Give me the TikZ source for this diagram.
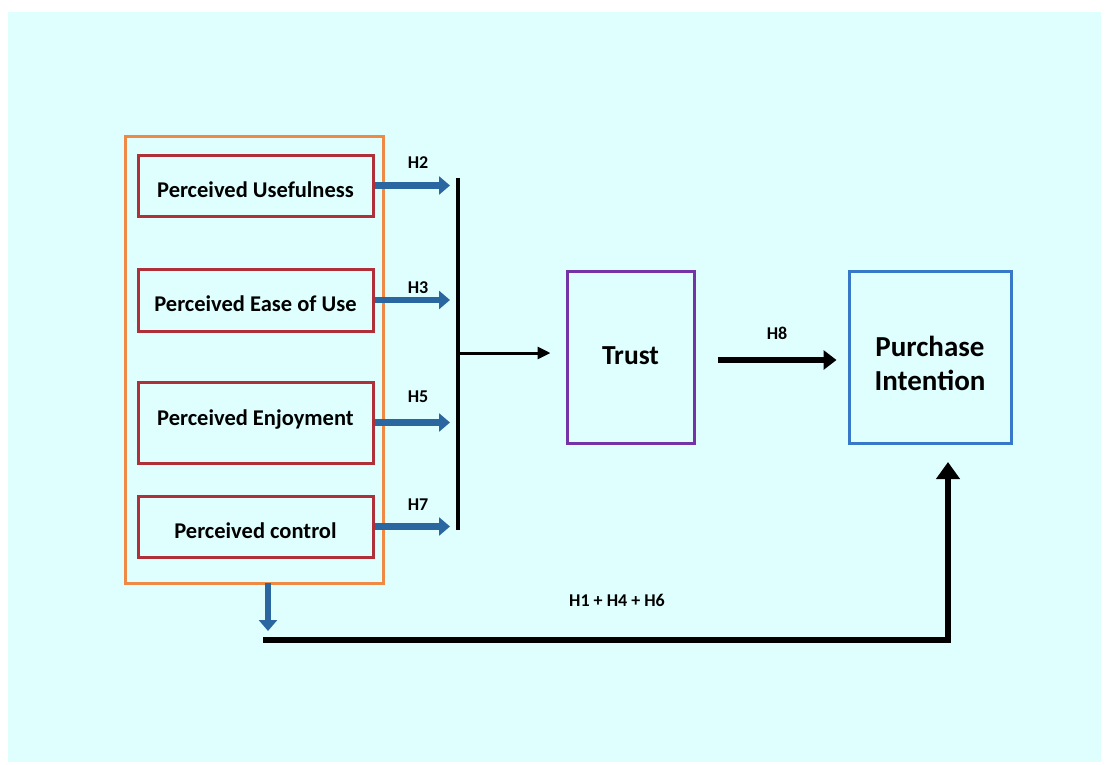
\documentclass[tikz,border=0pt]{standalone}
\usepackage{fontspec}
\setmainfont{Carlito}
\usetikzlibrary{arrows.meta}

\definecolor{bgcyan}{HTML}{DFFFFF}
\definecolor{grouporange}{HTML}{EE8A46}
\definecolor{factorred}{HTML}{B0303A}
\definecolor{arrowblue}{HTML}{2A67A0}
\definecolor{trustpurple}{HTML}{7434A8}
\definecolor{piblue}{HTML}{3779C8}

\newcommand{\shifttext}[2]{\raisebox{#1}[\height][\depth]{#2}}

\tikzset{
  factor/.style={draw=factorred, line width=3pt, minimum width=235pt, inner sep=0pt,
    font=\bfseries\fontsize{22.5}{26}\selectfont},
  hlabel/.style={font=\bfseries\fontsize{18}{21}\selectfont},
  bluearrow/.style={draw=arrowblue, line width=6.5pt, -{Triangle[length=11pt,width=18pt]}},
  thickarrow/.style={line width=6pt, -{Triangle[length=13pt,width=19pt]}},
}

\begin{document}
\begin{tikzpicture}[x=1pt,y=-1pt]
\useasboundingbox (0,0) rectangle (1109,764);
\fill[bgcyan] (8,12) rectangle (1101,762);

% left group of factors
\node[draw=grouporange, line width=3pt, minimum width=258pt, minimum height=447pt] (grp) at (254,359.5) {};
\node[factor, minimum height=61pt] (pu) at (255.5,185.5) {\shifttext{-4pt}{Perceived Usefulness}};
\node[factor, minimum height=62pt] (peou) at (255.5,300) {\shifttext{-4pt}{Perceived Ease of Use}};
\node[factor, minimum height=81pt] (pe) at (255.5,422.5) {\shifttext{3pt}{Perceived Enjoyment}};
\node[factor, minimum height=61pt] (pc) at (255.5,526.5) {\shifttext{-4pt}{Perceived control}};

% right boxes
\node[draw=trustpurple, line width=3pt, minimum width=127pt, minimum height=172pt,
  font=\bfseries\fontsize{27.5}{32}\selectfont] (trust) at (630.5,357) {\shifttext{1pt}{Trust}};
\node[draw=piblue, line width=3pt, minimum width=162pt, minimum height=172pt,
  font=\bfseries\fontsize{29}{34}\selectfont] (pi) at (930,357)
  {\shifttext{-10pt}{\begin{tabular}{@{}c@{}}Purchase\\Intention\end{tabular}}};

% collecting bar
\coordinate (bartop) at (458,178);
\coordinate (barbot) at (458,530);
\coordinate (barmid) at (458,353);
\coordinate (tipx) at (450,0);
\draw[line width=4.5pt] (bartop) -- (barbot);

\draw[bluearrow] (pu.east) -- (pu.east -| tipx);
\draw[bluearrow] (peou.east) -- (peou.east -| tipx);
\draw[bluearrow] (pe.east) -- (pe.east -| tipx);
\draw[bluearrow] (pc.east) -- (pc.east -| tipx);

\node[hlabel] (h2) at (418,163) {H2};
\node[hlabel] (h3) at (418,288) {H3};
\node[hlabel] (h5) at (418,397) {H5};
\node[hlabel] (h7) at (418,505) {H7};

\draw[line width=3pt, -{Triangle[length=13pt,width=12pt]}] (barmid) -- ([xshift=-15pt]trust.west |- barmid);

% trust to intention
\draw[thickarrow] ([xshift=22pt,yshift=-3pt]trust.east) -- ([xshift=-11pt,yshift=-3pt]pi.west);
\node[hlabel] (h8) at (777,333) {H8};

% direct path
\coordinate (drop) at (268,583);
\coordinate (dropend) at (268,631);
\coordinate (loopstart) at (263,640);
\coordinate (loopcorner) at (948,640);
\coordinate (loopend) at (948,462);
\draw[bluearrow] (drop) -- (dropend);
\draw[thickarrow, -{Triangle[length=17pt,width=23pt]}] (loopstart) -- (loopcorner) -- (loopend);
\node[hlabel] (h146) at (617,600) {H1 + H4 + H6};
\end{tikzpicture}
\end{document}
